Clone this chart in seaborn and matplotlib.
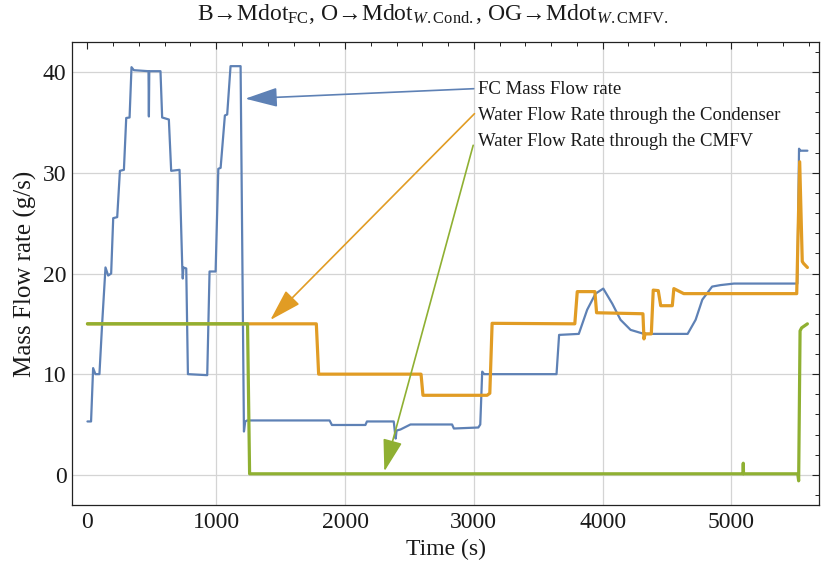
import matplotlib
matplotlib.use("Agg")
import matplotlib.pyplot as plt
from matplotlib.ticker import MultipleLocator
import pandas as pd
import seaborn as sns

# ---------------- data ----------------
fc_t = [0, 28, 44, 62, 93, 114, 140, 161, 184, 200, 231, 252, 283, 301, 327, 342, 360,
        474, 477, 480, 567, 580, 632, 650, 715, 736, 740, 745, 767, 780, 930, 948, 995,
        1016, 1034, 1067, 1085, 1111, 1189, 1215, 1225, 1240, 1880, 1898, 2158, 2170,
        2378, 2393, 2400, 2430, 2508, 2831, 2845, 3035, 3050, 3065, 3080, 3642, 3662,
        3815, 3880, 3945, 4005, 4075, 4139, 4217, 4321, 4660, 4722, 4774, 4850, 4916,
        5020, 5512, 5525, 5535, 5590]
fc_v = [5.3, 5.3, 10.6, 10.0, 10.0, 15.0, 20.6, 19.8, 20.0, 25.5, 25.6, 30.2, 30.3, 35.45,
        35.5, 40.5, 40.2, 40.1, 35.6, 40.1, 40.1, 35.5, 35.3, 30.2, 30.3, 20.7, 19.5, 20.6,
        20.5, 10.0, 9.9, 20.2, 20.2, 30.4, 30.5, 35.7, 35.8, 40.6, 40.6, 4.3, 5.3, 5.4, 5.4,
        4.95, 4.95, 5.3, 5.3, 3.6, 4.4, 4.5, 5.0, 5.0, 4.6, 4.7, 5.0, 10.25, 10.0, 10.0,
        13.9, 14.0, 16.4, 18.0, 18.5, 17.0, 15.4, 14.4, 14.0, 14.0, 15.4, 17.4, 18.7, 18.85,
        19.0, 19.0, 32.4, 32.2, 32.2]

cond_t = [0, 1777, 1795, 2590, 2605, 3103, 3124, 3142, 3784, 3803, 3940, 3953, 4313, 4321,
          4330, 4378, 4393, 4432, 4451, 4541, 4553, 4630, 5507, 5530, 5550, 5560, 5590]
cond_v = [15.0, 15.0, 10.0, 10.0, 7.9, 7.9, 8.1, 15.05, 15.0, 18.2, 18.2, 16.1, 16.0, 13.5,
          14.0, 14.0, 18.35, 18.3, 16.8, 16.8, 18.5, 18.0, 18.0, 31.1, 21.2, 21.0, 20.6]

cmfv_t = [0, 1243, 1259, 5090, 5092, 5094, 5515, 5522, 5533, 5545, 5590]
cmfv_v = [15.0, 15.0, 0.1, 0.1, 1.15, 0.1, 0.1, -0.6, 14.3, 14.6, 15.0]

labels = ["FC Mass Flow rate",
          "Water Flow Rate through the Condenser",
          "Water Flow Rate through the CMFV"]
title = (r"B→Mdot$_{\mathrm{FC}}$, O→Mdot$_{W\mathrm{.Cond.}}$, "
         r"OG→Mdot$_{W\mathrm{.CMFV.}}$")

BLUE, ORANGE, GREEN = "#5E81B5", "#E19C24", "#8FB032"

# ---------------- style ----------------
sns.set_theme(style="white")
plt.rcParams["font.family"] = ["Liberation Serif", "DejaVu Serif"]
plt.rcParams["mathtext.fontset"] = "custom"
plt.rcParams["mathtext.rm"] = "Liberation Serif"
plt.rcParams["mathtext.it"] = "Liberation Serif:italic"
plt.rcParams["mathtext.bf"] = "Liberation Serif:bold"

fig = plt.figure(figsize=(8.21, 5.71), dpi=100)
ax = fig.add_axes([72 / 821, 1 - 505 / 571, (819 - 72) / 821, (505 - 42) / 571])

for v in [1000, 2000, 3000, 4000, 5000]:
    ax.axvline(v, color="#d4d4d4", lw=0.9, zorder=0)
for v in [0, 10, 20, 30, 40]:
    ax.axhline(v, color="#d4d4d4", lw=0.9, zorder=0)

df_fc = pd.DataFrame({"t": fc_t, "v": fc_v})
df_cond = pd.DataFrame({"t": cond_t, "v": cond_v})
df_cmfv = pd.DataFrame({"t": cmfv_t, "v": cmfv_v})
sns.lineplot(data=df_fc, x="t", y="v", ax=ax, color=BLUE, lw=1.6, sort=False,
             estimator=None, legend=False)
sns.lineplot(data=df_cond, x="t", y="v", ax=ax, color=ORANGE, lw=2.3, sort=False,
             estimator=None, legend=False)
sns.lineplot(data=df_cmfv, x="t", y="v", ax=ax, color=GREEN, lw=2.3, sort=False,
             estimator=None, legend=False)

ax.set_xlim(-120, 5680)
ax.set_ylim(-3, 43)
ax.xaxis.set_major_locator(MultipleLocator(1000))
ax.xaxis.set_minor_locator(MultipleLocator(200))
ax.yaxis.set_major_locator(MultipleLocator(10))
ax.yaxis.set_minor_locator(MultipleLocator(2))
ax.tick_params(which="both", direction="in", top=True, right=True, color="#222222")
ax.tick_params(which="major", length=5, width=0.8, labelsize=17, labelcolor="#1a1a1a")
ax.tick_params(which="minor", length=3, width=0.7)
ax.tick_params(axis="x", pad=5)
ax.tick_params(axis="y", pad=4)
for s in ax.spines.values():
    s.set_color("#222222")
    s.set_linewidth(0.9)

ax.set_xlabel("Time (s)", fontsize=17, labelpad=4, color="#1a1a1a")
ax.set_ylabel("Mass Flow rate (g/s)", fontsize=18, labelpad=4, color="#1a1a1a")

fig.text(433 / 821, 1 - 19.5 / 571, title, ha="center", va="baseline", fontsize=17,
         color="#1a1a1a")

# annotations
arrow_specs = [
    ((1225, 37.37), (2999, 38.36), BLUE),
    ((1420, 15.38), (3005, 35.88), ORANGE),
    ((2305, 0.33), (2995, 32.74), GREEN),
]
for tip, start, col in arrow_specs:
    ax.annotate("", xy=tip, xytext=start,
                arrowprops=dict(arrowstyle="-|>,head_length=1.0,head_width=0.3",
                                mutation_scale=20, color=col, lw=1.2,
                                shrinkA=0, shrinkB=0))
text_y = [38.26, 35.7, 33.07]
for lab, yy in zip(labels, text_y):
    ax.text(3036, yy, lab, fontsize=13.5, va="center", ha="left", color="#1a1a1a")

fig.savefig("out.png", dpi=100)
